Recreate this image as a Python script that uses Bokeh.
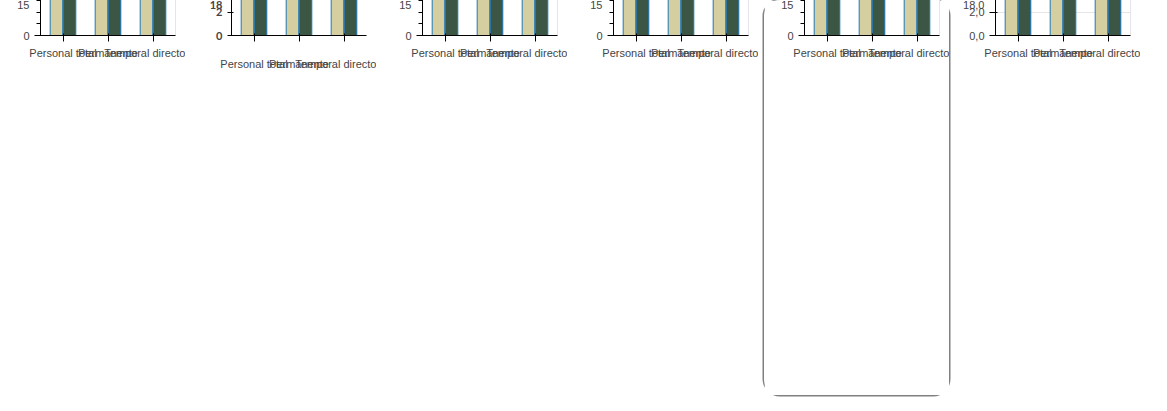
from bokeh.plotting import figure
from bokeh.models import (Range1d, FixedTicker, Legend, LegendItem, ColumnDataSource,
                          LabelSet)
from bokeh.transform import dodge
from bokeh.core.properties import value
from bokeh.layouts import row
from bokeh.embed import file_html
from bokeh.resources import INLINE

cats = ["Personal total", "Permanente", "Temporal directo"]
var = [12.7, 12.0, 15.6]
con = [12.7, 9.4, 3.3]
ticks = [0, 2, 4, 6, 8, 10, 12, 14, 16, 18]


def fmt(v):
    return f"{v:.1f}".replace(".", ",")


def mk(title, styl=False, labels=False, legend=False, styles=False, overrides=False):
    p = figure(width=185, height=395, output_backend="svg", toolbar_location=None, title=title,
               x_range=cats, y_range=Range1d(0, 18),
               min_border_left=40, min_border_right=10, min_border_top=35, min_border_bottom=63)
    src = ColumnDataSource(dict(cat=cats, v=var, c=con))
    r1 = p.vbar(x=dodge("cat", -0.145, range=p.x_range), top="v", width=0.28, source=src,
                fill_color="#d5cea1")
    r2 = p.vbar(x=dodge("cat", 0.145, range=p.x_range), top="c", width=0.28, source=src,
                fill_color="#3b5645")
    if styl:
        p.xgrid.visible = False
        p.ygrid.visible = False
        p.outline_line_color = None
        p.border_fill_color = None
        p.yaxis[0].ticker = FixedTicker(ticks=ticks)
        p.yaxis[0].major_tick_out = 4
        p.yaxis[0].major_label_text_font = "Lato"
        p.yaxis[0].major_label_text_font_style = "bold"
        p.xaxis[0].major_label_standoff = 16
    if labels:
        s = ColumnDataSource(dict(cat=cats, y=var, t=[fmt(v) for v in var]))
        p.add_layout(LabelSet(x=dodge("cat", -0.145, range=p.x_range), y="y", text="t",
                              source=s, y_offset=13, text_align="center",
                              text_baseline="bottom", text_font=value("Lato"),
                              text_font_size="12px"))
    if legend:
        lg = Legend(items=[LegendItem(label="Variación", renderers=[r1]),
                           LegendItem(label="Contribución", renderers=[r2])],
                    orientation="horizontal", location="center")
        p.add_layout(lg, "below")
    if styles:
        p.styles = {"border-radius": "16px", "background-color": "white",
                    "box-shadow": "0 0 0 1.5px #808080"}
    if overrides:
        p.yaxis[0].ticker = FixedTicker(ticks=ticks)
        p.yaxis[0].major_label_overrides = {t: fmt(t) for t in ticks}
    return p


ps = [mk("base"), mk("styl", styl=True), mk("labels", labels=True), mk("legend", legend=True),
      mk("styles", styles=True), mk("overr", overrides=True)]
open("out.html", "w").write(file_html(row(*ps, spacing=6), INLINE))
